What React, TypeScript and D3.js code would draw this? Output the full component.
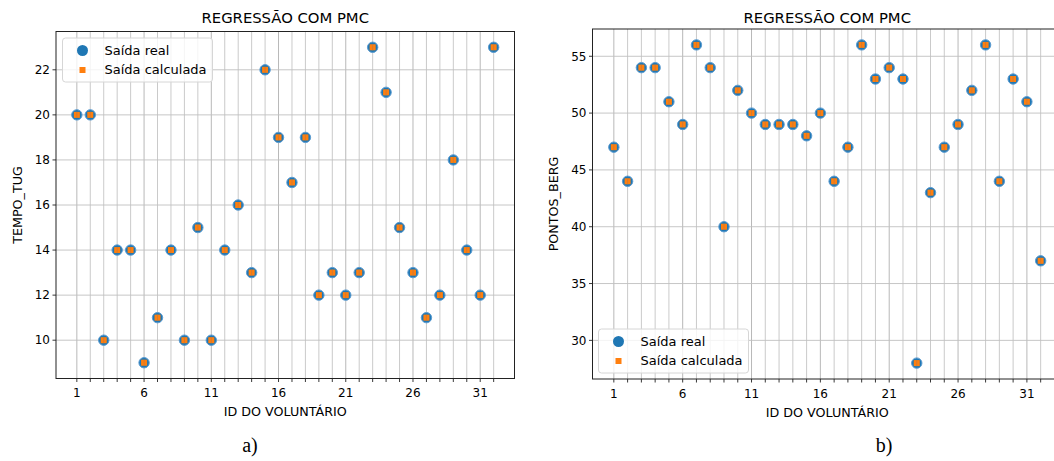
import React, { useEffect } from 'react';
import * as d3 from 'd3';

// volunteer ids 1..32
const ids = d3.range(1, 33);

const tugReal = [20, 20, 10, 14, 14, 9, 11, 14, 10, 15, 10, 14, 16, 13, 22, 19, 17, 19, 12, 13, 12, 13, 23, 21, 15, 13, 11, 12, 18, 14, 12, 23];
const tugCalc = [20, 20, 10, 14, 14, 9, 11, 14, 10, 15, 10, 14, 16, 13, 22, 19, 17, 19, 12, 13, 12, 13, 23, 21, 15, 13, 11, 12, 18, 14, 12, 23];

const bergReal = [47, 44, 54, 54, 51, 49, 56, 54, 40, 52, 50, 49, 49, 49, 48, 50, 44, 47, 56, 53, 54, 53, 28, 43, 47, 49, 52, 56, 44, 53, 51, 37];
const bergCalc = [47, 44, 54, 54, 51, 49, 56, 54, 40, 52, 50, 49, 49, 49, 48, 50, 44, 47, 56, 53, 54, 53, 28, 43, 47, 49, 52, 56, 44, 53, 51, 37];

const xTicks = [1, 6, 11, 16, 21, 26, 31];
const tugTicks = [10, 12, 14, 16, 18, 20, 22];
const bergTicks = [30, 35, 40, 45, 50, 55];

const FONT = '"DejaVu Sans", sans-serif';
const BLUE = '#1f77b4';
const ORANGE = '#ff7f0e';

type PanelProps = {
  left: number; right: number; top: number; bottom: number;
  real: number[]; calc: number[]; yTicks: number[];
  yDomain: [number, number]; yLabel: string;
  legendX: number; legendY: number;
};

const Panel = (p: PanelProps) => {
  const x = d3.scaleLinear().domain([-0.55, 33.55]).range([p.left, p.right]);
  const y = d3.scaleLinear().domain(p.yDomain).range([p.bottom, p.top]);
  const cx = (p.left + p.right) / 2;
  const cy = (p.top + p.bottom) / 2;
  const clipId = 'clip' + p.left;

  return (
    <g fontFamily={FONT} fill="#000">
      <defs>
        <clipPath id={clipId}>
          <rect x={p.left} y={p.top} width={p.right - p.left} height={p.bottom - p.top} />
        </clipPath>
      </defs>
      <g clipPath={`url(#${clipId})`}>
        {ids.map(i => (
          <line key={'gx' + i} x1={x(i)} x2={x(i)} y1={p.top} y2={p.bottom}
            stroke={xTicks.includes(i) ? '#b0b0b0' : '#c4c4c4'} strokeWidth={0.9} />
        ))}
        {p.yTicks.map(t => (
          <line key={'gy' + t} x1={p.left} x2={p.right} y1={y(t)} y2={y(t)} stroke="#c0c0c0" strokeWidth={0.9} />
        ))}
        {ids.map((id, i) => (
          <circle key={'r' + id} cx={x(id)} cy={y(p.real[i])} r={5.2}
            fill={BLUE} stroke="#5b9bd0" strokeWidth={1} />
        ))}
        {ids.map((id, i) => (
          <rect key={'c' + id} x={x(id) - 3} y={y(p.calc[i]) - 3} width={6} height={6}
            fill={ORANGE} />
        ))}
        {ids.map((id, i) => (
          <line key={'o' + id} x1={x(id)} x2={x(id)} y1={y(p.calc[i]) - 3} y2={y(p.calc[i]) + 3}
            stroke="#c77a3a" strokeWidth={0.8} />
        ))}
      </g>
      <rect x={p.left} y={p.top} width={p.right - p.left} height={p.bottom - p.top}
        fill="none" stroke="#222" strokeWidth={1} />
      {ids.map(i => (
        <line key={'tx' + i} x1={x(i)} x2={x(i)} y1={p.bottom} y2={p.bottom + 3.5} stroke="#222" strokeWidth={0.9} />
      ))}
      {xTicks.map(t => (
        <text key={'lx' + t} x={x(t)} y={p.bottom + 18.5} fontSize={12} textAnchor="middle">{t}</text>
      ))}
      {p.yTicks.map(t => (
        <g key={'ty' + t}>
          <line x1={p.left - 3.5} x2={p.left} y1={y(t)} y2={y(t)} stroke="#222" strokeWidth={0.9} />
          <text x={p.left - 6} y={y(t) + 4.3} fontSize={12} textAnchor="end">{t}</text>
        </g>
      ))}
      <text x={cx} y={22.5} fontSize={14.8} textAnchor="middle">REGRESSÃO COM PMC</text>
      <text x={cx} y={p.bottom + 37.5} fontSize={12.7} textAnchor="middle">ID DO VOLUNTÁRIO</text>
      <text transform={`translate(${p.left - 34.5},${cy}) rotate(-90)`} fontSize={12.7} textAnchor="middle">{p.yLabel}</text>
      <g transform={`translate(${p.legendX},${p.legendY})`}>
        <rect x={0} y={0} width={150} height={44} rx={3} fill="#fff" fillOpacity={0.8} stroke="#d6d6d6" strokeWidth={1} />
        <circle cx={20} cy={12.5} r={5.5} fill={BLUE} />
        <rect x={17} y={29} width={6} height={6} fill={ORANGE} />
        <text x={42} y={17} fontSize={13}>Saída real</text>
        <text x={42} y={36} fontSize={13}>Saída calculada</text>
      </g>
    </g>
  );
};

export default function App() {
  useEffect(() => {
    document.body.style.margin = '0';
  }, []);

  return (
    <svg width={1054} height={461} style={{ position: 'absolute', left: 0, top: 0, background: '#fff' }}>
      <rect width={1054} height={461} fill="#fff" />
      <Panel left={56} right={514.5} top={31.5} bottom={378.5}
        real={tugReal} calc={tugCalc} yTicks={tugTicks} yDomain={[8.3, 23.7]}
        yLabel="TEMPO_TUG" legendX={62.5} legendY={38} />
      <Panel left={592.5} right={1062} top={29} bottom={379}
        real={bergReal} calc={bergCalc} yTicks={bergTicks} yDomain={[26.6, 57.4]}
        yLabel="PONTOS_BERG" legendX={598.5} legendY={329} />
      <text x={250} y={452} fontFamily='"Liberation Serif", serif' fontSize={20} textAnchor="middle">a)</text>
      <text x={884} y={452} fontFamily='"Liberation Serif", serif' fontSize={20} textAnchor="middle">b)</text>
    </svg>
  );
}
